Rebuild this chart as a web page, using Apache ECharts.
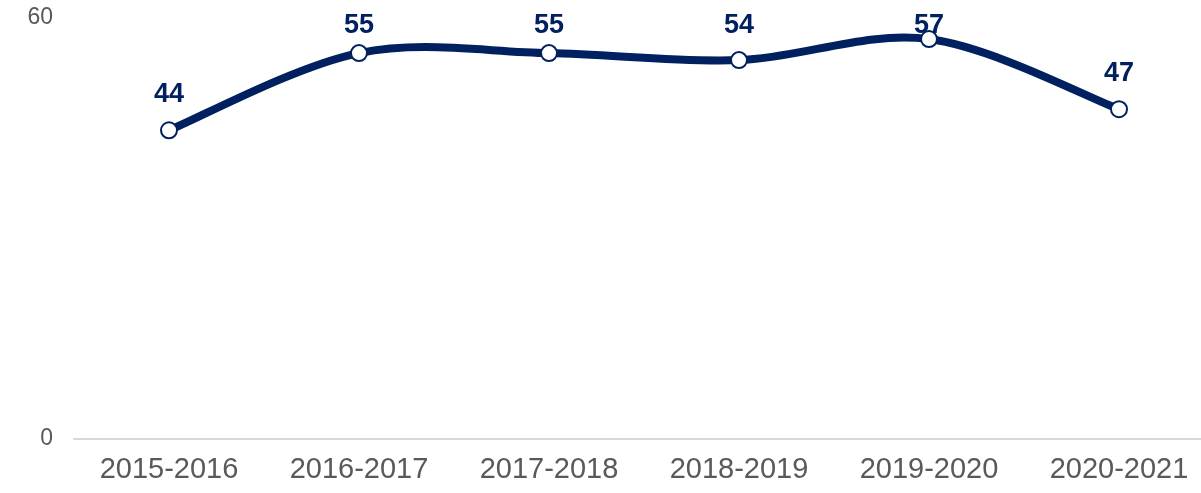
<!DOCTYPE html>
<html>
<head>
<meta charset="utf-8">
<script src="https://cdn.jsdelivr.net/npm/echarts@6/dist/echarts.min.js"></script>
<style>
html,body{margin:0;padding:0;background:#fff;}
#chart{width:1201px;height:493px;}
</style>
</head>
<body>
<div id="chart"></div>
<script>
const categories = ['2015-2016','2016-2017','2017-2018','2018-2019','2019-2020','2020-2021'];
const values = [44, 55, 55, 54, 57, 47];
const yTicks = [0, 60];

const NAVY = '#002060';
const FONT = 'Liberation Sans, Arial, sans-serif';
const pairs = values.map((v, i) => [i, v]);
const n = values.length;

function renderSegment(params, api) {
  const i = params.dataIndex;
  if (i >= n - 1) return null;
  const pt = k => api.coord([Math.max(0, Math.min(n - 1, k)), api.value(1, Math.max(0, Math.min(n - 1, k)))]);
  const p0 = pt(i - 1), p1 = pt(i), p2 = pt(i + 1), p3 = pt(i + 2);
  const t = 1 / 6;
  return {
    type: 'bezierCurve',
    shape: {
      x1: p1[0], y1: p1[1], x2: p2[0], y2: p2[1],
      cpx1: p1[0] + (p2[0] - p0[0]) * t, cpy1: p1[1] + (p2[1] - p0[1]) * t,
      cpx2: p2[0] - (p3[0] - p1[0]) * t, cpy2: p2[1] - (p3[1] - p1[1]) * t
    },
    style: {stroke: NAVY, lineWidth: 8, fill: null, lineCap: 'round'}
  };
}

const chart = echarts.init(document.getElementById('chart'), null, {renderer:'canvas'});
chart.setOption({
  animation: false,
  grid: {left: 74, top: 18, bottom: 54, width: 1140, containLabel: false, outerBoundsMode: 'none'},
  xAxis: {
    type: 'category',
    data: categories,
    boundaryGap: true,
    axisLine: {show: true, lineStyle: {color: '#d9d9d9', width: 2}},
    axisTick: {show: false},
    axisLabel: {color: '#595959', fontSize: 29, fontFamily: FONT, margin: 16}
  },
  yAxis: {
    type: 'value',
    min: yTicks[0],
    max: yTicks[yTicks.length-1],
    interval: yTicks[1]-yTicks[0],
    axisLine: {show: false},
    axisTick: {show: false},
    splitLine: {show: false},
    axisLabel: {color: '#595959', fontSize: 23, fontFamily: FONT, margin: 21}
  },
  series: [{
    type: 'custom',
    data: pairs,
    encode: {x: 0, y: 1},
    renderItem: renderSegment,
    clip: false,
    z: 1,
    silent: true
  }, {
    type: 'line',
    data: values,
    symbol: 'circle',
    symbolSize: 16,
    z: 2,
    lineStyle: {opacity: 0, width: 0},
    itemStyle: {color: '#ffffff', borderColor: NAVY, borderWidth: 2},
    label: {
      show: true, position: 'top', distance: 13,
      color: NAVY, fontSize: 27, fontWeight: 'bold', fontFamily: FONT
    },
    labelLayout: function (p) {
      const top = p.labelRect.y;
      return top < 12 ? {dy: 12 - top} : {};
    }
  }]
});
</script>
</body>
</html>
